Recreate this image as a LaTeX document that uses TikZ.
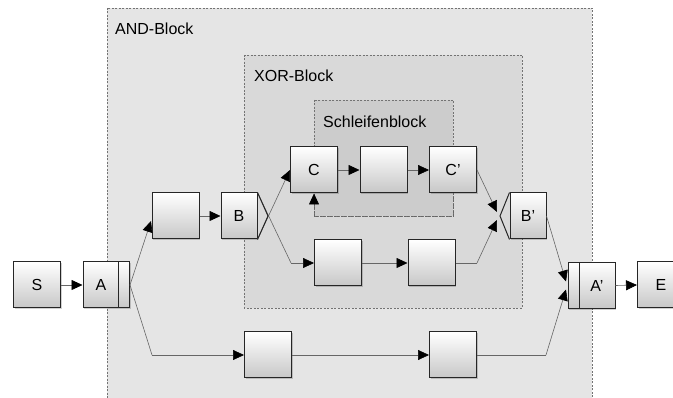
\documentclass[tikz,border=0pt]{standalone}
\usepackage{fontspec}
\setmainfont{Liberation Sans}
\usetikzlibrary{arrows.meta,shadows}
\begin{document}
\begin{tikzpicture}[x=1pt,y=-1pt,
  every node/.style={font=\fontsize{16}{19}\selectfont},
  box/.style={draw=black!85, line width=1pt, top color=white, bottom color=black!22,
    drop shadow={shadow xshift=1.2pt, shadow yshift=-1.2pt, fill=black, opacity=0.18},
    minimum width=47pt, minimum height=46pt, inner sep=0pt},
  bar/.style={box, minimum width=11pt},
  half/.style={box, minimum width=36pt},
  blk/.style={draw=black!55, dashed, dash pattern=on 2pt off 1.5pt, line width=0.6pt},
  conn/.style={draw=black!60, line width=0.6pt},
  tip/.style={-{Triangle[length=11pt,width=10pt,color=black]}},
  arr/.style={conn, tip},
  notch/.style={draw=black!85, line width=1pt},
  lbl/.style={anchor=west, inner sep=0pt}]
\useasboundingbox (0,0) rectangle (673,398);
% blocks
\path[blk, fill=black!10] (107,8) rectangle (592,410);
\node[lbl] (andl) at (115,29) {AND-Block};
\path[blk, fill=black!15] (244,55) rectangle (522,308);
\node[lbl] (xorl) at (254,76) {XOR-Block};
\path[blk, fill=black!20] (314,100) rectangle (453,216);
\node[lbl] (schl) at (323,122) {Schleifenblock};
% nodes
\node[box] (S) at (37,285) {S};
\node[half] (A) at (101,285) {A};
\node[bar] (Ab) at (124,285) {};
\node[box] (U1) at (175.5,216) {};
\node[half] (B) at (239,216) {B};
\node[box] (C) at (314,170) {C};
\node[box] (M) at (383.5,170) {};
\node[box] (Cp) at (453,170) {C'};
\node[box] (L1) at (338,263) {};
\node[box] (L2) at (431.5,263) {};
\node[half] (Bp) at (528,216) {B'};
\node[bar] (Apb) at (573.5,285.5) {};
\node[half] (Ap) at (597,285.5) {A'};
\node[box] (E) at (661,285) {E};
\node[box] (D1) at (268,355) {};
\node[box] (D2) at (453,355) {};
% coordinates
\coordinate (aU) at (151,221);
\coordinate (aD) at (152,355);
\coordinate (xL) at (291,263);
\coordinate (bU) at (497,212);
\coordinate (bL) at (497,220);
\coordinate (l2r) at (477,263);
\coordinate (bn) at (500,216);
\coordinate (apU) at (566,281.5);
\coordinate (apL) at (566,289.5);
\coordinate (d2r) at (546,355);
\coordinate (lpR) at (453,216);
\coordinate (lpL) at (314,216);
% connectors
\draw[arr] (S.east) -- (A.west);
\draw[arr] (Ab.east) -- (aU);
\draw[conn] (Ab.east) -- (aD);
\draw[arr] (aD) -- (D1.west);
\draw[arr] (U1.east) -- (B.west);
\draw[conn] (B.north east) -- (xL);
\draw[arr] (xL) -- (L1.west);
\draw[arr] (B.south east) -- (C.west);
\draw[notch] (B.north east) -- (268,216) -- (B.south east);
\draw[arr] (C.east) -- (M.west);
\draw[arr] (M.east) -- (Cp.west);
\draw[arr] (L1.east) -- (L2.west);
\draw[conn, dashed, dash pattern=on 2pt off 1.5pt, tip] (Cp.south) -- (lpR) -- (lpL) -- (C.south);
\draw[arr] (Cp.east) -- (bU);
\draw[conn] (L2.east) -- (l2r);
\draw[arr] (l2r) -- (bL);
\draw[notch] (Bp.north west) -- (bn) -- (Bp.south west);
\draw[arr] (Bp.east) -- (apU);
\draw[arr] (D1.east) -- (D2.west);
\draw[conn] (D2.east) -- (d2r);
\draw[arr] (d2r) -- (apL);
\draw[arr] (Ap.east) -- (E.west);
\end{tikzpicture}
\end{document}
